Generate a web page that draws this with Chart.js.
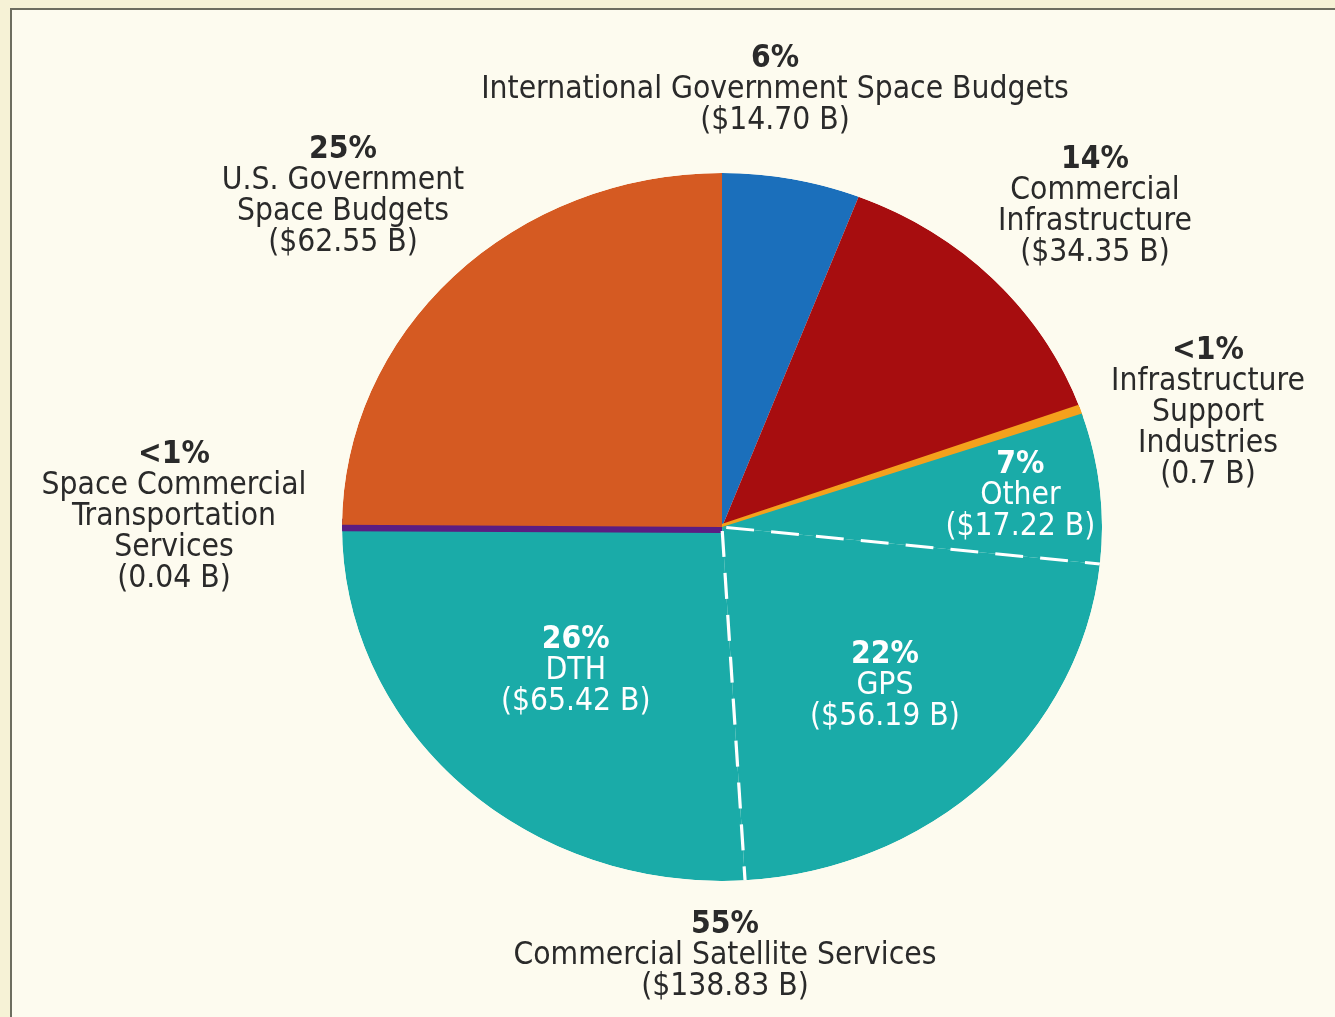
<!DOCTYPE html>
<html>
<head>
<meta charset="utf-8">
<title>Global Space Economy</title>
<script src="https://cdn.jsdelivr.net/npm/chart.js@4.4.0/dist/chart.umd.min.js"></script>
<style>
  html, body { margin: 0; padding: 0; width: 1335px; height: 1017px; overflow: hidden; background: #f6f2d6; }
  .frame {
    position: absolute; left: 10px; top: 8px; right: 0; bottom: 0;
    background: #fdfbef;
    border-top: 2px solid #6d6d5f; border-left: 2px solid #6d6d5f;
  }
  #chart { position: absolute; left: 0; top: 0; }
</style>
</head>
<body>
<div class="frame"></div>
<canvas id="chart" width="1335" height="1017"></canvas>
<script>
// segments clockwise from 12 o'clock, values in $ billions
const segments = [
  "International Government Space Budgets",
  "Commercial Infrastructure",
  "Infrastructure Support Industries",
  "Other",
  "GPS",
  "DTH",
  "Space Commercial Transportation Services",
  "U.S. Government Space Budgets"
];
const billions = [14.70, 34.35, 0.7, 17.22, 56.19, 65.42, 0.04, 62.55];
const shares = ["6%", "14%", "<1%", "7%", "22%", "26%", "<1%", "25%"];
const amounts = ["($14.70 B)", "($34.35 B)", "(0.7 B)", "($17.22 B)", "($56.19 B)", "($65.42 B)", "(0.04 B)", "($62.55 B)"];
const nameLines = [
  ["International Government Space Budgets"],
  ["Commercial", "Infrastructure"],
  ["Infrastructure", "Support", "Industries"],
  ["Other"],
  ["GPS"],
  ["DTH"],
  ["Space Commercial", "Transportation", "Services"],
  ["U.S. Government", "Space Budgets"]
];
const colors = ["#1b6fbb", "#a70d0f", "#f4a11c", "#1aaba8", "#1aaba8", "#1aaba8", "#5b1d82", "#d55a22"];

// Other + GPS + DTH share one group label under the pie
const groupLines = ["55%", "Commercial Satellite Services", "($138.83 B)"];

// label placement: outside labels at fixed spots, inside ones along the slice's mid angle
const outside = {
  0: { x: 775, y: 59 },
  1: { x: 1095, y: 160 },
  2: { x: 1208, y: 351 },
  6: { x: 174, y: 455 },
  7: { x: 343, y: 150 }
};
const inside = { 3: 0.79, 4: 0.62, 5: 0.56 };
const groupPos = { x: 725, y: 925 };

const stretchX = 380 / 354;   // pie is drawn a little wider than tall
const lineGap = 31;
const fontFamily = '"DejaVu Sans Condensed", "DejaVu Sans", sans-serif';

function drawBlock(ctx, x, y, lines, color) {
  ctx.fillStyle = color;
  ctx.textAlign = "center";
  ctx.textBaseline = "middle";
  lines.forEach((t, k) => {
    ctx.font = (k === 0 ? "bold " : "") + "31.5px " + fontFamily;
    ctx.fillText(t, x, y + k * lineGap);
  });
}

const ellipsePlugin = {
  id: "ellipse",
  beforeDatasetsDraw(chart) {
    const a = chart.getDatasetMeta(0).data[0];
    const ctx = chart.ctx;
    ctx.save();
    ctx.translate(a.x, a.y);
    ctx.scale(stretchX, 1);
    ctx.translate(-a.x, -a.y);
    // keep the thin-slice outlines inside the disc
    ctx.beginPath();
    ctx.arc(a.x, a.y, a.outerRadius, 0, Math.PI * 2);
    ctx.clip();
  },
  afterDatasetsDraw(chart) {
    const ctx = chart.ctx;
    const arcs = chart.getDatasetMeta(0).data;
    // dashed splits inside the satellite services group
    ctx.strokeStyle = "#ffffff";
    ctx.lineWidth = 3;
    ctx.setLineDash([26, 16]);
    [4, 5].forEach(i => {
      const a = arcs[i];
      const ang = a.startAngle;
      ctx.beginPath();
      ctx.moveTo(a.x + 4 * Math.cos(ang), a.y + 4 * Math.sin(ang));
      ctx.lineTo(a.x + a.outerRadius * Math.cos(ang), a.y + a.outerRadius * Math.sin(ang));
      ctx.stroke();
    });
    ctx.restore();
  },
  afterDraw(chart) {
    const ctx = chart.ctx;
    const arcs = chart.getDatasetMeta(0).data;
    ctx.save();
    segments.forEach((name, i) => {
      const lines = [shares[i], ...nameLines[i], amounts[i]];
      if (outside[i]) {
        drawBlock(ctx, outside[i].x, outside[i].y, lines, "#2a2a2a");
      } else if (inside[i]) {
        const a = arcs[i];
        const mid = (a.startAngle + a.endAngle) / 2;
        const r = a.outerRadius * inside[i];
        const cx = a.x + stretchX * r * Math.cos(mid);
        const cy = a.y + r * Math.sin(mid);
        drawBlock(ctx, cx, cy - lineGap, lines, "#ffffff");
      }
    });
    drawBlock(ctx, groupPos.x, groupPos.y, groupLines, "#2a2a2a");
    ctx.restore();
  }
};

new Chart(document.getElementById("chart"), {
  type: "pie",
  data: {
    labels: segments,
    datasets: [{
      data: billions,
      backgroundColor: colors,
      borderColor: colors,
      borderWidth: [0, 0, 6, 0, 0, 0, 12, 0],
      clip: false
    }]
  },
  options: {
    responsive: false,
    animation: false,
    events: [],
    radius: 354,
    layout: { padding: { left: 109, right: 0, top: 37, bottom: 0 } },
    plugins: {
      legend: { display: false },
      tooltip: { enabled: false }
    }
  },
  plugins: [ellipsePlugin]
});
</script>
</body>
</html>
